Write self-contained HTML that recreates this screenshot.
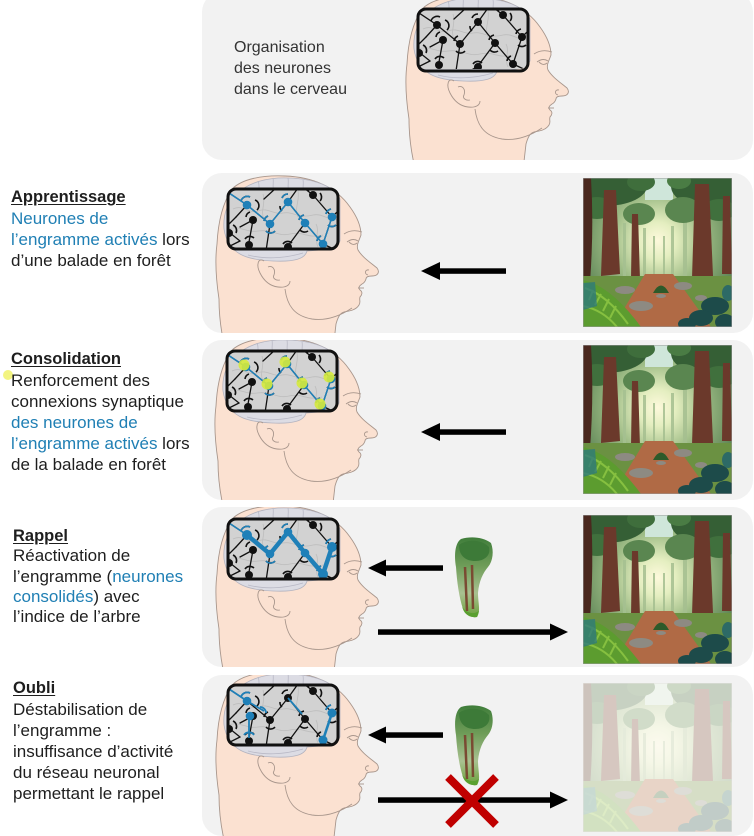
<!DOCTYPE html>
<html><head><meta charset="utf-8">
<style>
html,body{margin:0;padding:0;background:#fff;}
body{width:754px;height:836px;position:relative;overflow:hidden;font-family:"Liberation Sans",Arial,sans-serif;}
svg{position:absolute;left:0;top:0;}
.t{position:absolute;font-size:17px;line-height:21px;color:#1e1e1e;white-space:nowrap;}
.t b{font-size:16.5px;text-decoration:underline;text-underline-offset:2px;}
.bl{color:#1f7fb4;}
.o{position:absolute;left:234px;top:37px;font-size:16px;line-height:21px;color:#333;white-space:nowrap;}
</style></head>
<body>
<svg width="754" height="836" viewBox="0 0 754 836">
<defs>
 <radialGradient id="sky" cx="0.5" cy="0.42" r="0.62">
  <stop offset="0" stop-color="#fdf9dc"/>
  <stop offset="0.2" stop-color="#e4eec0"/>
  <stop offset="0.5" stop-color="#9dbb85"/>
  <stop offset="1" stop-color="#4c7548"/>
 </radialGradient>
 <linearGradient id="fragG" x1="0" y1="0" x2="0" y2="1">
  <stop offset="0" stop-color="#3f7d3a"/>
  <stop offset="0.35" stop-color="#6e9c58"/>
  <stop offset="0.7" stop-color="#a9c191"/>
  <stop offset="1" stop-color="#6aa03a"/>
 </linearGradient>
 <clipPath id="boxclip"><rect x="0" y="0" width="110" height="60" rx="8"/></clipPath>
 <clipPath id="fclip"><rect x="0" y="0" width="149" height="149"/></clipPath>
 <clipPath id="c1"><rect x="202" y="-8" width="551" height="168" rx="20"/></clipPath>
 <clipPath id="c2"><rect x="202" y="173" width="551" height="160" rx="20"/></clipPath>
 <clipPath id="c3"><rect x="202" y="340" width="551" height="160" rx="20"/></clipPath>
 <clipPath id="c4"><rect x="202" y="507" width="551" height="160" rx="20"/></clipPath>
 <clipPath id="c5"><rect x="202" y="675" width="551" height="161" rx="20"/></clipPath>

 <g id="headBase">
  <path d="M0,170 C-6,150 -9,130 -9,110 C-12,90 -13,70 -11,55 C-10,35 -6,15 4,0 C14,-10 34,-14 57,-13 C85,-12 108,-2 122,18 C130,29 133,38 133,46 C131,52 128,56 130,61 C134,68 143,74 149,79 C152,83 150,87 144,87 C140,87 138,88 138,90 C137,93 136,94 134,95 C131,97 130,99 132,101 C135,103 134,106 132,108 C131,111 133,113 131,116 C128,121 122,122 116,123 C112,124 110,128 108,135 L104,170 Z" fill="#fbe1d1" stroke="#a8968c" stroke-width="0.9"/>
  <path d="M-4,40 C-6,15 10,-8 50,-11 C80,-12 105,-5 112,10 L112,52 C108,60 95,61 79,62 C77,70 66,73 45,72 C20,71 0,66 -4,40 Z" fill="#dcdce4" stroke="#b3b3bf" stroke-width="0.8"/>
  <g fill="none" stroke="#b9b9c6" stroke-width="0.8">
   <path d="M30,-8 C32,-4 30,0 32,2 M45,-11 C46,-6 44,-2 46,2 M60,-11 C61,-6 59,-2 61,2 M75,-9 C76,-5 74,-1 76,2"/>
   <path d="M20,66 C35,70 55,70 75,64"/>
  </g>
  <g fill="none" stroke="#a8968c" stroke-width="0.9">
   <path d="M36,72 C30,68 28,76 32,84 C36,92 42,97 50,98 C58,99 62,96 62,92"/>
   <path d="M40,78 C44,76 48,80 46,86 C44,89 48,92 52,91"/>
   <path d="M57,100 C59,116 66,127 84,130 C98,132 112,127 124,119"/>
   <path d="M116,45 C122,41 128,41 134,43"/>
   <path d="M119,53 C123,50 127,50 130,52 M121,53 C124,56 127,56 129,54"/>
   <path d="M141,81 C137,80 136,85 140,86"/>
   <path d="M130,99 L136,99"/>
  </g>
 </g>

 <g id="netBase">
  <rect x="0" y="0" width="110" height="60" fill="#d2d2d2"/>
  <g fill="none" stroke="#bdbdbd" stroke-width="0.8">
   <path d="M5,20 C15,15 20,25 30,22 C40,18 45,26 55,24 C65,22 70,30 85,26 C95,24 100,32 110,30"/>
   <path d="M0,40 C12,36 18,44 30,42 C45,40 50,48 62,45 C75,42 80,50 95,46"/>
   <path d="M35,5 C38,15 32,22 36,30 M70,2 C72,12 66,18 70,28 M88,35 C92,42 86,50 90,58"/>
  </g>
  <g fill="none" stroke="#111" stroke-width="1.3" stroke-linecap="round">
   <polyline points="-2,2 19,16 42,35 60,13 77,34 95,55 104,28"/>
   <line x1="25" y1="31" x2="21" y2="53"/>
   <line x1="19" y1="16" x2="8" y2="28"/>
   <line x1="8" y1="28" x2="0" y2="36"/>
   <line x1="25" y1="31" x2="12" y2="38"/>
   <line x1="2" y1="44" x2="12" y2="52"/>
   <line x1="12" y1="52" x2="0" y2="58"/>
   <line x1="42" y1="35" x2="38" y2="62"/>
   <line x1="60" y1="13" x2="70" y2="-1"/>
   <line x1="77" y1="34" x2="60" y2="57"/>
   <line x1="60" y1="57" x2="52" y2="62"/>
   <line x1="85" y1="6" x2="104" y2="28"/>
   <line x1="85" y1="6" x2="76" y2="-1"/>
   <line x1="104" y1="28" x2="112" y2="20"/>
   <line x1="36" y1="10" x2="48" y2="-1"/>
   <line x1="95" y1="55" x2="110" y2="62"/>
  </g>
  <g fill="none" stroke="#111" stroke-width="1.6">
   <path d="M13,12 A6.5,6.5 0 0 1 22,8"/><path d="M27,11 A6,6 0 0 1 29,21"/>
   <path d="M36,32 A6.5,6.5 0 0 1 40,27"/><path d="M38,42 A6,6 0 0 0 47,42"/>
   <path d="M54,9 A6.5,6.5 0 0 1 60,5"/><path d="M52,17 A6,6 0 0 0 54,22"/>
   <path d="M71,31 A6.5,6.5 0 0 1 76,26"/><path d="M72,41 A6,6 0 0 0 80,42"/>
   <path d="M89,52 A6.5,6.5 0 0 1 93,47"/>
   <path d="M98,25 A6.5,6.5 0 0 1 103,20"/><path d="M100,36 A6,6 0 0 0 108,36"/>
   <path d="M80,2 A6.5,6.5 0 0 1 88,-1"/><path d="M92,4 A6,6 0 0 1 92,12"/>
   <path d="M17,50 A6,6 0 0 1 26,49"/><path d="M55,55 A6,6 0 0 1 64,54"/>
   <path d="M5,36 A6,6 0 0 1 8,44"/><path d="M18,28 A6,6 0 0 1 22,23"/>
  </g>
  <g fill="#111">
   <circle cx="19" cy="16" r="4"/><circle cx="42" cy="35" r="4"/><circle cx="60" cy="13" r="4"/>
   <circle cx="77" cy="34" r="4"/><circle cx="95" cy="55" r="4"/><circle cx="104" cy="28" r="4"/>
   <circle cx="25" cy="31" r="4"/><circle cx="85" cy="6" r="4"/><circle cx="60" cy="58" r="4"/>
   <circle cx="1" cy="44" r="4"/><circle cx="21" cy="56" r="4"/>
  </g>
 </g>

 <g id="blueNodes" fill="#1f80b8">
  <circle cx="19" cy="16" r="4.3"/><circle cx="42" cy="35" r="4.3"/><circle cx="60" cy="13" r="4.3"/>
  <circle cx="77" cy="34" r="4.3"/><circle cx="95" cy="55" r="4.3"/><circle cx="104" cy="28" r="4.3"/>
 </g>
 <g id="blueArcs" fill="none" stroke="#1f80b8" stroke-width="1.6">
  <path d="M13,12 A6.5,6.5 0 0 1 22,8"/><path d="M36,32 A6.5,6.5 0 0 1 40,27"/><path d="M38,42 A6,6 0 0 0 47,42"/>
  <path d="M54,9 A6.5,6.5 0 0 1 60,5"/><path d="M71,31 A6.5,6.5 0 0 1 76,26"/>
  <path d="M89,52 A6.5,6.5 0 0 1 93,47"/><path d="M98,25 A6.5,6.5 0 0 1 103,20"/><path d="M100,36 A6,6 0 0 0 108,36"/>
 </g>

 <g id="forest">
  <g clip-path="url(#fclip)">
  <rect width="149" height="149" fill="url(#sky)"/>
  <rect x="62" y="0" width="28" height="22" fill="#cfe6da"/>
  <g fill="#a5bf90" opacity="0.85">
   <rect x="40" y="45" width="3" height="60"/><rect x="60" y="50" width="3" height="52"/>
   <rect x="88" y="48" width="3" height="56"/><rect x="100" y="42" width="4" height="62"/>
   <rect x="70" y="58" width="2" height="42"/><rect x="80" y="58" width="2" height="42"/>
  </g>
  <g fill="#355f35">
   <ellipse cx="22" cy="8" rx="42" ry="20"/>
   <ellipse cx="126" cy="8" rx="38" ry="22"/>
   <ellipse cx="58" cy="4" rx="14" ry="9" fill="#3f6e3c"/>
   <ellipse cx="96" cy="3" rx="12" ry="8" fill="#4a7c44"/>
   <ellipse cx="56" cy="36" rx="16" ry="11" fill="#5a8650"/>
   <ellipse cx="100" cy="32" rx="18" ry="13" fill="#5a8650"/>
   <ellipse cx="14" cy="30" rx="18" ry="11" fill="#40703d"/>
   <ellipse cx="136" cy="32" rx="16" ry="11" fill="#40703d"/>
  </g>
  <g fill="#6b392b">
   <path d="M0,0 L8,0 Q11,50 7,104 L0,104 Z" fill="#4a281e"/>
   <path d="M21,12 L33,12 L37,96 L18,98 Z"/>
   <path d="M49,36 L55,36 L57,102 L48,102 Z"/>
   <path d="M112,6 L126,6 L130,98 L109,100 Z"/>
   <path d="M140,18 L147,18 L149,96 L139,96 Z"/>
  </g>
  <path d="M0,98 L149,98 L149,149 L0,149 Z" fill="#6b9142"/>
  <path d="M62,96 L90,96 L128,149 L30,149 Z" fill="#b06a45"/>
  <g fill="#8d8a82">
   <ellipse cx="42" cy="112" rx="10" ry="4"/><ellipse cx="100" cy="108" rx="9" ry="4"/>
   <ellipse cx="78" cy="118" rx="5" ry="2"/><ellipse cx="118" cy="120" rx="6" ry="3"/>
   <ellipse cx="58" cy="128" rx="12" ry="5"/>
  </g>
  <path d="M0,102 Q28,108 58,149 L0,149 Z" fill="#5c9c2f"/>
  <g stroke="#86c040" stroke-width="2" fill="none">
   <path d="M2,110 Q25,118 45,146"/><path d="M0,128 Q20,132 34,149"/>
   <path d="M10,112 L6,122 M18,116 L12,127 M26,121 L20,133 M33,128 L27,140"/>
  </g>
  <path d="M0,105 L12,104 L14,128 L0,132 Z" fill="#2f7a7a" opacity="0.8"/>
  <g fill="#1d4b4a">
   <ellipse cx="132" cy="128" rx="14" ry="9"/><ellipse cx="118" cy="140" rx="12" ry="8"/>
   <ellipse cx="142" cy="144" rx="10" ry="8"/><ellipse cx="104" cy="146" rx="9" ry="6"/>
   <ellipse cx="145" cy="115" rx="6" ry="8" fill="#2d6a66"/>
  </g>
  <path d="M70,115 Q78,100 86,115 Z" fill="#2d5a2a"/>
  </g>
  <rect x="0.25" y="0.25" width="148.5" height="148.5" fill="none" stroke="#9a9a9a" stroke-width="0.5"/>
 </g>

 <g id="treeFrag">
  <path d="M8,2 C18,-1 30,0 38,6 C41,14 40,24 35,30 C30,36 26,44 25,56 C25,66 28,74 24,80 C18,81 12,78 10,72 C6,60 4,45 3,30 C1,18 2,6 8,2 Z" fill="url(#fragG)"/>
  <path d="M6,8 C14,2 28,2 36,10 C38,18 32,24 22,24 C14,24 6,20 6,8 Z" fill="#3d7a38"/>
  <path d="M12,30 L14,74 M19,28 L20,72" stroke="#7a4a32" stroke-width="2.5"/>
  <path d="M9,70 C14,76 20,78 26,74 L24,80 C18,81 12,78 10,72 Z" fill="#5aa030"/>
 </g>
</defs>

<!-- Panels -->
<rect x="202" y="-8" width="551" height="168" rx="20" fill="#f2f2f2"/>
<rect x="202" y="173" width="551" height="160" rx="20" fill="#f2f2f2"/>
<rect x="202" y="340" width="551" height="160" rx="20" fill="#f2f2f2"/>
<rect x="202" y="507" width="551" height="160" rx="20" fill="#f2f2f2"/>
<rect x="202" y="675" width="551" height="161" rx="20" fill="#f2f2f2"/>

<!-- Panel 1 -->
<g clip-path="url(#c1)"><g transform="translate(418,9)">
 <use href="#headBase"/>
 <g clip-path="url(#boxclip)"><use href="#netBase"/></g>
 <rect x="0" y="0" width="110" height="62" rx="8" fill="none" stroke="#111" stroke-width="3"/>
</g></g>

<!-- Panel 2 -->
<g clip-path="url(#c2)"><g transform="translate(228,189)">
 <use href="#headBase"/>
 <g clip-path="url(#boxclip)"><use href="#netBase"/>
  <polyline points="-2,2 19,16 42,35 60,13 77,34 95,55 104,28" fill="none" stroke="#1f80b8" stroke-width="1.5"/>
  <use href="#blueArcs"/><use href="#blueNodes"/>
 </g>
 <rect x="0" y="0" width="110" height="60" rx="8" fill="none" stroke="#111" stroke-width="3"/>
</g></g>

<!-- Panel 3 -->
<g clip-path="url(#c3)"><g transform="translate(227,351)">
 <use href="#headBase"/>
 <g clip-path="url(#boxclip)"><use href="#netBase"/>
  <polyline points="-2,2 19,16 42,35 60,13 77,34 95,55 104,28" fill="none" stroke="#1f80b8" stroke-width="1.5"/>
  <use href="#blueArcs"/><use href="#blueNodes"/>
  <g fill="#d6ea3c" opacity="0.9">
   <circle cx="17" cy="14" r="5.5"/><circle cx="40" cy="33" r="5.5"/><circle cx="58" cy="11" r="5.5"/>
   <circle cx="75" cy="32" r="5.5"/><circle cx="93" cy="53" r="5.5"/><circle cx="102" cy="26" r="5.5"/>
  </g>
 </g>
 <rect x="0" y="0" width="110" height="60" rx="8" fill="none" stroke="#111" stroke-width="3"/>
</g></g>

<!-- Panel 4 -->
<g clip-path="url(#c4)"><g transform="translate(228,519)">
 <use href="#headBase"/>
 <g clip-path="url(#boxclip)"><use href="#netBase"/>
  <line x1="-2" y1="2" x2="19" y2="16" stroke="#1f80b8" stroke-width="1.5"/>
  <polyline points="19,16 42,35 60,13 77,34 95,55 104,28" fill="none" stroke="#1f80b8" stroke-width="4.5" stroke-linejoin="round"/>
  <use href="#blueArcs"/><use href="#blueNodes"/>
  <g fill="#1f80b8"><circle cx="19" cy="16" r="5"/><circle cx="95" cy="55" r="5"/><circle cx="104" cy="28" r="5"/></g>
 </g>
 <rect x="0" y="0" width="110" height="60" rx="8" fill="none" stroke="#111" stroke-width="3"/>
</g></g>

<!-- Panel 5 -->
<g clip-path="url(#c5)"><g transform="translate(228,685)">
 <use href="#headBase"/>
 <g clip-path="url(#boxclip)"><use href="#netBase"/>
  <g fill="none" stroke="#1f80b8" stroke-width="1.8">
   <polyline points="-2,2 19,16 36,26"/>
   <line x1="21" y1="31" x2="21" y2="53"/>
   <line x1="60" y1="13" x2="74" y2="29"/>
   <line x1="95" y1="55" x2="104" y2="28" stroke-width="2.6"/>
   <path d="M13,12 A6.5,6.5 0 0 1 22,8"/><path d="M32,22 A6,6 0 0 1 38,28"/>
   <path d="M16,50 A6,6 0 0 1 26,50"/><path d="M98,25 A6.5,6.5 0 0 1 103,20"/>
  </g>
  <g fill="#1f80b8"><circle cx="19" cy="16" r="4.3"/><circle cx="22" cy="31" r="4.3"/><circle cx="95" cy="55" r="4.5"/><circle cx="104" cy="28" r="4.5"/></g>
 </g>
 <rect x="0" y="0" width="110" height="60" rx="8" fill="none" stroke="#111" stroke-width="3"/>
</g></g>

<!-- Forest images -->
<use href="#forest" transform="translate(583,178)"/>
<use href="#forest" transform="translate(583,345)"/>
<use href="#forest" transform="translate(583,515)"/>
<g transform="translate(583,683)">
 <use href="#forest"/>
 <rect x="0" y="0" width="149" height="149" fill="#fbf9f4" opacity="0.74"/>
</g>

<!-- Tree fragments -->
<use href="#treeFrag" transform="translate(453,537)"/>
<use href="#treeFrag" transform="translate(453,705)"/>

<!-- Arrows -->
<g fill="#000">
 <rect x="438" y="268.3" width="68" height="5.5"/>
 <polygon points="421,271 440,262 440,280"/>
 <rect x="438" y="429.3" width="68" height="5.5"/>
 <polygon points="421,432 440,423 440,441"/>
 <rect x="384" y="565.3" width="59" height="5.5"/>
 <polygon points="368,568 386,559.5 386,576.5"/>
 <rect x="378" y="629.3" width="175" height="5.5"/>
 <polygon points="568,632 550,623.5 550,640.5"/>
 <rect x="384" y="732.3" width="59" height="5.5"/>
 <polygon points="368,735 386,726.5 386,743.5"/>
 <rect x="378" y="797.3" width="175" height="5.5"/>
 <polygon points="568,800 550,791.5 550,808.5"/>
</g>
<g stroke="#c00000" stroke-width="8">
 <line x1="448" y1="777" x2="496" y2="825"/>
 <line x1="496" y1="777" x2="448" y2="825"/>
</g>

<circle cx="8" cy="375" r="5" fill="#f1f26a" opacity="0.85"/>
</svg>

<div class="o">Organisation<br>des neurones<br>dans le cerveau</div>

<div class="t" style="left:11px;top:186px;"><b>Apprentissage</b><br><span class="bl">Neurones de<br>l’engramme activés</span> lors<br>d’une balade en forêt</div>

<div class="t" style="left:11px;top:348px;"><b>Consolidation</b><br>Renforcement des<br>connexions synaptique<br><span class="bl">des neurones de<br>l’engramme activés</span> lors<br>de la balade en forêt</div>

<div class="t" style="left:13px;top:526px;line-height:20.3px;"><b>Rappel</b><br>Réactivation de<br>l’engramme (<span class="bl">neurones<br>consolidés</span>) avec<br>l’indice de l’arbre</div>

<div class="t" style="left:13px;top:677px;"><b>Oubli</b><br>Déstabilisation de<br>l’engramme :<br>insuffisance d’activité<br>du réseau neuronal<br>permettant le rappel</div>
</body></html>
